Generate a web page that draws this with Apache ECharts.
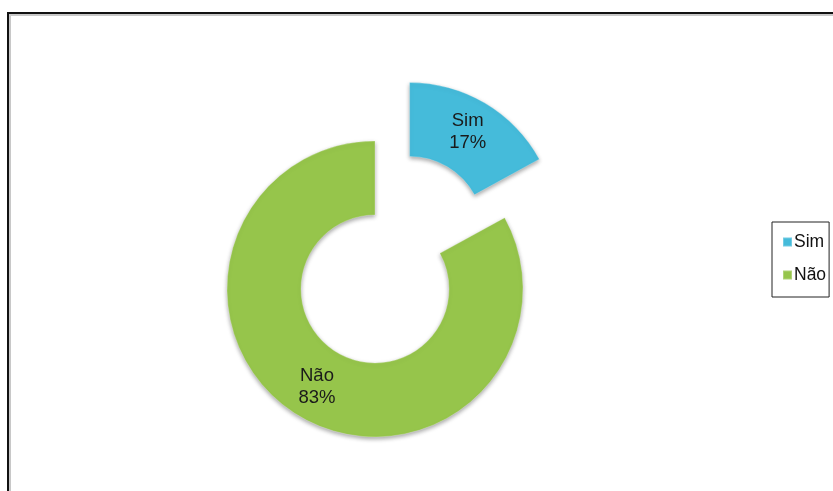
<!DOCTYPE html>
<html>
<head>
<meta charset="utf-8">
<script src="https://cdn.jsdelivr.net/npm/echarts@6/dist/echarts.min.js"></script>
<style>
  html, body { margin: 0; padding: 0; background: #fff; }
  #chart { width: 833px; height: 491px; }
</style>
</head>
<body>
<div id="chart"></div>
<script>
// Answer categories and their shares (%)
const categories = ['Sim', 'Não'];
const shares = [17, 83];
const sliceColors = ['#45BBDA', '#96C54B'];
const explodedCategory = 'Sim';

const chart = echarts.init(document.getElementById('chart'), null, { renderer: 'canvas' });

const pieData = categories.map((name, i) => ({
  name: name,
  value: shares[i],
  selected: name === explodedCategory,
  itemStyle: { color: sliceColors[i] }
}));

chart.setOption({
  animation: false,
  backgroundColor: '#ffffff',
  textStyle: { fontFamily: 'Liberation Sans, Arial, sans-serif' },
  graphic: [
    // outer chart frame with its soft grey inner edge
    {
      type: 'rect', silent: true, z: 0,
      shape: { x: 10, y: 15, width: 900, height: 600 },
      style: { fill: 'none', stroke: '#c8c8c8', lineWidth: 2 }
    },
    {
      type: 'rect', silent: true, z: 1,
      shape: { x: 8, y: 13, width: 900, height: 600 },
      style: { fill: 'none', stroke: '#111111', lineWidth: 2 }
    }
  ],
  legend: {
    orient: 'vertical',
    left: 772,
    top: 222,
    data: categories,
    selectedMode: false,
    icon: 'rect',
    itemWidth: 9,
    itemHeight: 9,
    itemGap: 15,
    padding: [11, 3, 13, 10],
    borderColor: '#222222',
    borderWidth: 1,
    textStyle: {
      fontFamily: 'Liberation Sans, Arial, sans-serif',
      fontSize: 17.5,
      color: '#111111',
      padding: [0, 0, 0, -3]
    }
  },
  series: [{
    type: 'pie',
    center: [375, 289],
    radius: [74, 148],
    startAngle: 90,
    clockwise: true,
    selectedMode: 'single',
    selectedOffset: 68,
    avoidLabelOverlap: false,
    emphasis: { disabled: true },
    itemStyle: {
      shadowBlur: 4,
      shadowColor: 'rgba(0,0,0,0.35)',
      shadowOffsetY: 2,
      borderColor: 'rgba(255,255,255,0.25)',
      borderWidth: 1
    },
    label: {
      show: true,
      position: 'inside',
      formatter: '{b}\n{d}%',
      fontFamily: 'Liberation Sans, Arial, sans-serif',
      fontSize: 18.5,
      lineHeight: 22,
      color: '#1a1a1a'
    },
    labelLine: { show: false },
    data: pieData
  }]
});
</script>
</body>
</html>
